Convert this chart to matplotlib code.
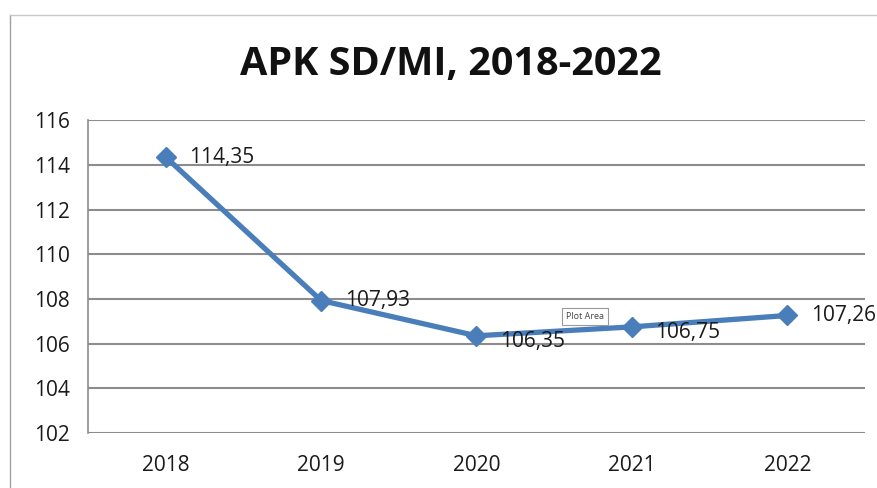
import matplotlib.pyplot as plt

# data
years = ['2018', '2019', '2020', '2021', '2022']
apk = [114.35, 107.93, 106.35, 106.75, 107.26]
labels = ['114,35', '107,93', '106,35', '106,75', '107,26']
yticks = [102, 104, 106, 108, 110, 112, 114, 116]

plt.rcParams['font.family'] = ['Open Sans', 'DejaVu Sans']

fig = plt.figure(figsize=(8.78, 4.88), dpi=100)
ax = fig.add_axes([0.1002, 0.1127, 0.885, 0.641])

# chart border (left + top only, the rest is cut off)
fig.add_artist(plt.Line2D([10/878, 10/878], [0, 1 - 15/488], transform=fig.transFigure,
                          color='#a0a0a0', lw=1))
fig.add_artist(plt.Line2D([10/878, 1], [1 - 15/488, 1 - 15/488], transform=fig.transFigure,
                          color='#c8c8c8', lw=1))

x = list(range(len(years)))
ax.plot(x, apk, color='#4a7ebb', lw=3.8, marker='D', markersize=10, zorder=3)

# data labels to the right of each point
offsets = [(17, 0), (17, 0), (17, -4), (17, -4), (17, 0)]
for xi, v, t, off in zip(x, apk, labels, offsets):
    ax.annotate(t, (xi, v), xytext=off, textcoords='offset points',
                va='center', ha='left', fontsize=15, color='#1a1a1a', zorder=4)

ax.set_xlim(-0.5, len(years) - 0.5)
ax.set_ylim(102, 116)
ax.set_yticks(yticks)
ax.set_xticks(x)
ax.set_xticklabels(years)
ax.tick_params(axis='both', length=0, labelsize=15, colors='#1a1a1a')
ax.tick_params(axis='x', pad=16)
ax.tick_params(axis='y', pad=13)
ax.grid(axis='y', color='#8c8c8c', lw=1.5)
ax.set_axisbelow(True)
for s in ['top', 'right', 'bottom']:
    ax.spines[s].set_visible(False)
ax.spines['left'].set_color('#8c8c8c')
ax.spines['left'].set_linewidth(1.2)

# "Plot Area" tooltip artefact
ax.text(2.70, 107.2, 'Plot Area', fontsize=6.5, color='#444444', ha='center', va='center',
        bbox=dict(boxstyle='square,pad=0.45', fc='white', ec='#9a9a9a', lw=0.8), zorder=5)

fig.text(0.513, 1 - 64/488, 'APK SD/MI, 2018-2022', ha='center', va='center',
         fontsize=28.5, fontweight='bold', color='#111111')

fig.savefig('out.png', dpi=100)
